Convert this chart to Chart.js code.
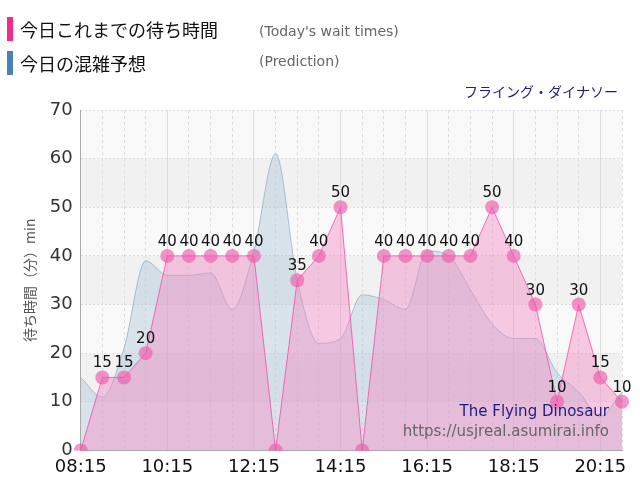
<!DOCTYPE html>
<html>
<head>
<meta charset="utf-8">
<script src="https://cdn.jsdelivr.net/npm/chart.js@4/dist/chart.umd.min.js"></script>
<style>
  body { margin: 0; background: #fff; }
  #wrap { width: 640px; height: 500px; position: relative; }
</style>
</head>
<body>
<div id="wrap"><canvas id="grafico"></canvas></div>
<script>
// Horarios (cada 30 minutos)
const horas = ['08:15','08:45','09:15','09:45','10:15','10:45','11:15','11:45','12:15','12:45',
  '13:15','13:45','14:15','14:45','15:15','15:45','16:15','16:45','17:15','17:45',
  '18:15','18:45','19:15','19:45','20:15','20:45'];
// Tiempos de espera de hoy
const esperaHoy = [0,15,15,20,40,40,40,40,40,0,35,40,50,0,40,40,40,40,40,50,40,30,10,30,15,10];
// Predicción
const prediccion = [15,11,21,39,36,36,36.5,29,41,61,35,22,23,32,31,29,41,40,33,26,23,23,16,12,7,12];
const ticksY = [0,10,20,30,40,50,60,70];

const etiquetasMayores = ['08:15','10:15','12:15','14:15','16:15','18:15','20:15'];

// Fondo en bandas + textos de cabecera
const pluginFondo = {
    id: 'fondo',
    beforeDraw(chart) {
        const { ctx, chartArea: a, scales: { y } } = chart;
        ctx.save();
        for (let i = 0; i < ticksY.length - 1; i++) {
            const y1 = y.getPixelForValue(ticksY[i + 1]);
            const y0 = y.getPixelForValue(ticksY[i]);
            ctx.fillStyle = (i % 2 == 0) ? '#f9f9f9' : '#f1f1f1';
            ctx.fillRect(a.left, y1, a.right - a.left, y0 - y1);
        }
        ctx.restore();
    },
    afterDraw(chart) {
        const { ctx } = chart;
        ctx.save();
        ctx.fillStyle = '#ee2d8f';
        ctx.fillRect(7, 17, 6, 24);
        ctx.fillStyle = '#4a82b4';
        ctx.fillRect(7, 51, 6, 24);
        ctx.textBaseline = 'alphabetic';
        ctx.fillStyle = '#111';
        ctx.font = '18px "Noto Sans CJK JP"';
        ctx.fillText('今日これまでの待ち時間', 20, 37);
        ctx.fillText('今日の混雑予想', 20, 71);
        ctx.fillStyle = '#666';
        ctx.font = '14px "DejaVu Sans"';
        ctx.fillText("(Today's wait times)", 259, 36);
        ctx.fillText('(Prediction)', 259, 66);
        ctx.textAlign = 'right';
        ctx.fillStyle = '#1d1d7a';
        ctx.font = '14px "Noto Sans CJK JP"';
        ctx.fillText('フライング・ダイナソー', 618, 97);
        ctx.font = '15px "DejaVu Sans"';
        ctx.fillText('The Flying Dinosaur', 609, 416);
        ctx.fillStyle = '#666';
        ctx.fillText('https://usjreal.asumirai.info', 609, 436);
        // valores sobre los puntos
        ctx.textAlign = 'center';
        ctx.fillStyle = '#111';
        ctx.font = '15px "DejaVu Sans"';
        const meta = chart.getDatasetMeta(0);
        meta.data.forEach((p, i) => {
            if (esperaHoy[i] > 0) ctx.fillText(String(esperaHoy[i]), p.x, p.y - 10);
        });
        ctx.restore();
    }
};

document.addEventListener('DOMContentLoaded', function() {
    const grafico = document.getElementById('grafico').getContext('2d');
    window.graficaEspera = new Chart(grafico, {
        type: 'line',
        data: {
            labels: horas,
            datasets: [{
                label: '今日これまでの待ち時間',
                data: esperaHoy,
                borderColor: 'rgba(238,80,170,0.8)',
                borderWidth: 1,
                backgroundColor: 'rgba(245,140,195,0.45)',
                pointBackgroundColor: 'rgba(238,90,170,0.65)',
                pointBorderWidth: 0,
                pointRadius: 7,
                fill: 'origin',
                tension: 0
            }, {
                label: '今日の混雑予想',
                data: prediccion,
                borderColor: 'rgba(140,170,200,0.7)',
                borderWidth: 1,
                backgroundColor: 'rgba(170,195,215,0.4)',
                pointRadius: 0,
                fill: 'origin',
                tension: 0.4,
                cubicInterpolationMode: 'monotone'
            }]
        },
        options: {
            responsive: true,
            maintainAspectRatio: false,
            animation: false,
            layout: { padding: { top: 110, right: 18, left: 17, bottom: 16 } },
            plugins: {
                legend: { display: false },
                tooltip: { enabled: false }
            },
            scales: {
                x: {
                    offset: false,
                    grid: { color: '#ddd', drawTicks: false },
                    border: {
                        display: true,
                        color: '#aaa',
                        dash: ctx => etiquetasMayores.includes(horas[ctx.index]) ? [] : [3, 3]
                    },
                    ticks: {
                        autoSkip: false,
                        maxRotation: 0,
                        color: '#111',
                        font: { size: 18, family: 'DejaVu Sans' },
                        padding: 6,
                        callback: function(v, i) {
                            return etiquetasMayores.includes(horas[i]) ? horas[i] : '';
                        }
                    }
                },
                y: {
                    min: 0,
                    max: 70,
                    grid: { color: '#ddd', drawTicks: false },
                    border: { display: true, color: '#aaa', dash: [2, 2] },
                    ticks: {
                        stepSize: 10,
                        color: '#333',
                        padding: 8,
                        font: { size: 18, family: 'DejaVu Sans' }
                    },
                    title: {
                        display: true,
                        text: '待ち時間（分）min',
                        color: '#555',
                        font: { size: 14, family: 'Noto Sans CJK JP' }
                    }
                }
            }
        },
        plugins: [pluginFondo]
    });
});
</script>
</body>
</html>
